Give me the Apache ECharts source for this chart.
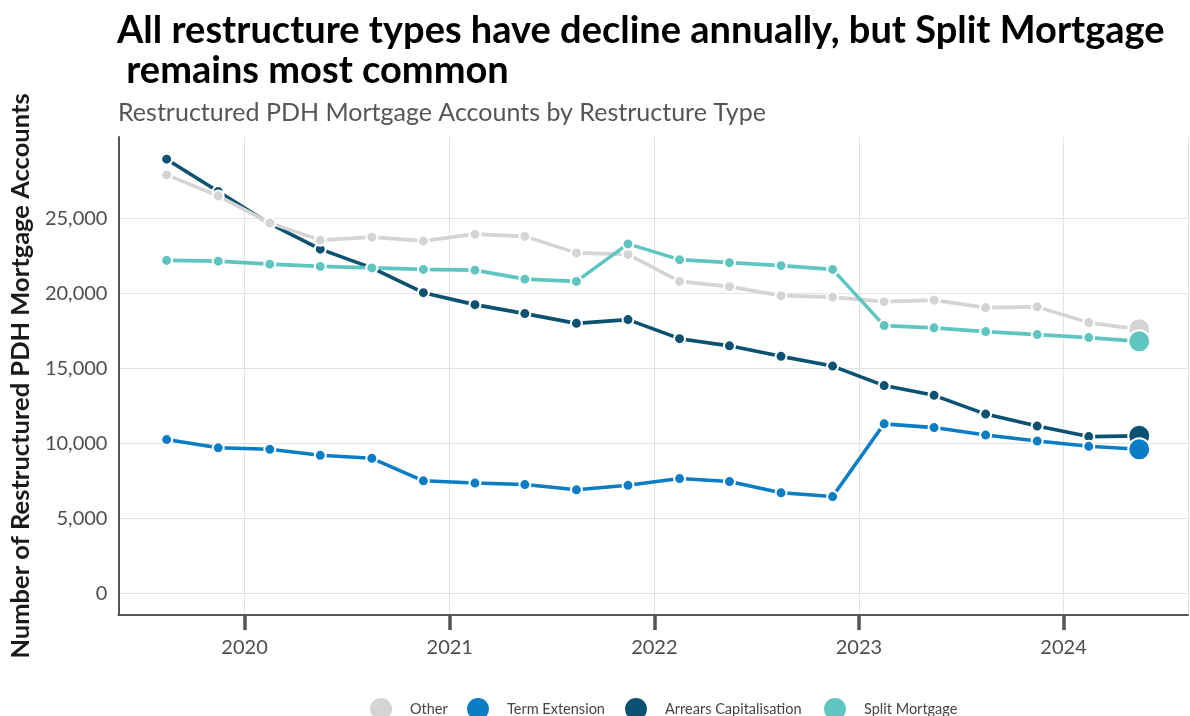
<!DOCTYPE html>
<html>
<head>
<meta charset="utf-8">
<script src="https://cdn.jsdelivr.net/npm/echarts@6/dist/echarts.min.js"></script>
<style>
  html, body { margin: 0; padding: 0; background: #ffffff; }
  #chart { width: 1190px; height: 716px; }
</style>
</head>
<body>
<div id="chart"></div>
<script>
// Quarter mid-points (Q3 2019 .. Q2 2024)
const dates = [
  '2019-08-15', '2019-11-15',
  '2020-02-15', '2020-05-15', '2020-08-15', '2020-11-15',
  '2021-02-15', '2021-05-15', '2021-08-15', '2021-11-15',
  '2022-02-15', '2022-05-15', '2022-08-15', '2022-11-15',
  '2023-02-15', '2023-05-15', '2023-08-15', '2023-11-15',
  '2024-02-15', '2024-05-15'
];

// Restructured PDH mortgage accounts by restructure type
const other = [27900, 26500, 24700, 23550, 23750, 23500, 23950, 23800, 22700, 22600,
               20800, 20450, 19850, 19750, 19450, 19550, 19050, 19100, 18050, 17600];
const termExtension = [10250, 9700, 9600, 9200, 9000, 7500, 7350, 7250, 6900, 7200,
                       7650, 7450, 6700, 6450, 11300, 11050, 10550, 10150, 9800, 9600];
const arrearsCapitalisation = [28950, 26800, 24650, 22950, 21700, 20050, 19250, 18650, 18000, 18250,
                               16980, 16500, 15800, 15150, 13850, 13200, 11950, 11150, 10450, 10500];
const splitMortgage = [22200, 22150, 21950, 21800, 21700, 21600, 21550, 20950, 20800, 23300,
                       22250, 22050, 21850, 21600, 17850, 17700, 17450, 17250, 17050, 16800];

const yTicks = [0, 5000, 10000, 15000, 20000, 25000];
const legendOrder = ['Other', 'Term Extension', 'Arrears Capitalisation', 'Split Mortgage'];

const colors = {
  'Other': '#d4d4d4',
  'Term Extension': '#0b7dc5',
  'Arrears Capitalisation': '#0b5272',
  'Split Mortgage': '#5ec5c0'
};

const FONT = 'Lato, "Noto Sans", sans-serif';

// left edge of each legend entry
const legendLeft = [370, 467, 625, 824];

function lineSeries(name, values) {
  const last = values.length - 1;
  return {
    name: name,
    type: 'line',
    symbol: 'circle',
    symbolSize: 11,
    lineStyle: { width: 3.6, color: colors[name] },
    itemStyle: { color: colors[name], borderColor: '#ffffff', borderWidth: 2 },
    emphasis: { disabled: true },
    data: values.map(function (v, i) {
      // the latest quarter is highlighted with a larger marker
      return i === last ? { value: [dates[i], v], symbolSize: 22 } : [dates[i], v];
    })
  };
}

const chart = echarts.init(document.getElementById('chart'), null, { renderer: 'canvas' });

chart.setOption({
  animation: false,
  backgroundColor: '#ffffff',
  title: [
    {
      text: 'All restructure types have decline annually, but Split Mortgage\n remains most common',
      left: 117,
      top: 11,
      padding: 0,
      textStyle: { fontFamily: FONT, fontSize: 38, fontWeight: 'bold', color: '#000000', lineHeight: 40 }
    },
    {
      text: 'Restructured PDH Mortgage Accounts by Restructure Type',
      left: 118,
      top: 100,
      padding: 0,
      textStyle: { fontFamily: FONT, fontSize: 25, fontWeight: 'normal', color: '#555555' }
    }
  ],
  legend: legendOrder.map(function (name, i) {
    return {
      data: [name],
      left: legendLeft[i],
      top: 698,
      padding: 0,
      icon: 'circle',
      itemWidth: 22,
      itemHeight: 22,
      itemStyle: { borderWidth: 0 },
      selectedMode: false,
      textStyle: { fontFamily: FONT, fontSize: 14.5, color: '#444444', padding: [0, 0, 0, 13] }
    };
  }),
  grid: { left: 118, right: 2, top: 137, bottom: 101, containLabel: false },
  xAxis: {
    type: 'time',
    min: '2019-05-21',
    max: '2024-08-10',
    minInterval: 365 * 24 * 3600 * 1000,
    maxInterval: 366 * 24 * 3600 * 1000,
    axisLine: { show: true, onZero: false, lineStyle: { color: '#555555', width: 2 } },
    axisTick: { show: true, length: 15, lineStyle: { color: '#555555', width: 3.5 } },
    axisLabel: {
      formatter: '{yyyy}',
      margin: 23,
      fontFamily: FONT,
      fontSize: 20,
      color: '#4d4d4d'
    },
    splitLine: { show: true, lineStyle: { color: '#e3e3e3', width: 1 } }
  },
  yAxis: {
    type: 'value',
    min: -1449,
    max: 30429,
    name: 'Number of Restructured PDH Mortgage Accounts',
    nameLocation: 'middle',
    nameGap: 83,
    nameTextStyle: { fontFamily: FONT, fontSize: 25.5, fontWeight: 'bold', color: '#1a1a1a' },
    axisLine: { show: true, onZero: false, lineStyle: { color: '#555555', width: 2 } },
    axisTick: { show: false, customValues: yTicks },
    axisLabel: {
      customValues: yTicks,
      margin: 11,
      fontFamily: FONT,
      fontSize: 20,
      color: '#4d4d4d',
      formatter: function (v) { return v.toLocaleString('en-US'); }
    },
    splitLine: { show: true, lineStyle: { color: '#e3e3e3', width: 1 } }
  },
  series: [
    lineSeries('Arrears Capitalisation', arrearsCapitalisation),
    lineSeries('Other', other),
    lineSeries('Term Extension', termExtension),
    lineSeries('Split Mortgage', splitMortgage)
  ]
});
</script>
</body>
</html>
